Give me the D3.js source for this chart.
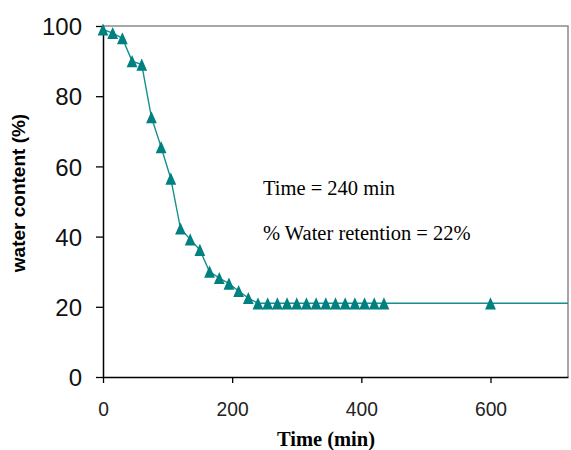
<!DOCTYPE html>
<html lang="en">
<head>
    <meta charset="UTF-8">
    <title>Water content vs time</title>
    <script src="https://d3js.org/d3.v7.min.js"></script>
    <style>
        body { margin: 0; background: white; }
        .ytick text { font-family: "Liberation Sans", Arial, sans-serif; font-size: 24px; fill: #111; }
        .xtick text { font-family: "Liberation Sans", Arial, sans-serif; font-size: 21px; fill: #222; }
        .note { font-family: "Liberation Serif", "Times New Roman", serif; font-size: 20.5px; fill: #000; }
    </style>
</head>
<body>
<svg id="canvas" width="571" height="450"></svg>
<script>
    // data
    let time  = [0, 15, 30, 45, 60, 75, 90, 105, 120, 135, 150, 165, 180, 195, 210, 225,
                 240, 255, 270, 285, 300, 315, 330, 345, 360, 375, 390, 405, 420, 435, 600];
    let water = [99, 98, 96.5, 90, 89, 74, 65.5, 56.5, 42.3, 39.2, 36.2, 30, 28.2, 26.6, 24.5, 22.5,
                 21, 21, 21, 21, 21, 21, 21, 21, 21, 21, 21, 21, 21, 21, 21];
    let xTicks = [0, 200, 400, 600];
    let yTicks = [0, 20, 40, 60, 80, 100];
    let xDomain = [0, 720];
    let yDomain = [0, 100];
    let notes = ["Time = 240 min", "% Water retention = 22%"];

    let svg = d3.select('svg');
    let pLeft = 103, pRight = 568, pTop = 26, pBottom = 377;

    let x = d3.scaleLinear().domain(xDomain).range([pLeft, pRight]);
    let y = d3.scaleLinear().domain(yDomain).range([pBottom, pTop]);

    // frame (top and right in grey)
    svg.append('path')
        .attr('d', `M${pLeft},${pTop}H${pRight}V${pBottom}`)
        .attr('fill', 'none')
        .attr('stroke', '#8a8a8a')
        .attr('stroke-width', 1.5);

    // y axis
    let yAxis = svg.append('g')
        .attr('class', 'ytick')
        .attr('transform', `translate(${pLeft},0)`)
        .call(d3.axisLeft(y).tickValues(yTicks).tickSize(7).tickPadding(14).tickSizeOuter(0));
    yAxis.select('.domain').attr('stroke', '#000').attr('stroke-width', 1.5);
    yAxis.selectAll('.tick line').attr('stroke', '#000').attr('stroke-width', 1.3);
    yAxis.selectAll('text').attr('dy', '0.36em');

    // x axis
    let xAxis = svg.append('g')
        .attr('class', 'xtick')
        .attr('transform', `translate(0,${pBottom})`)
        .call(d3.axisBottom(x).tickValues(xTicks).tickSize(6).tickPadding(18).tickSizeOuter(0));
    xAxis.select('.domain').attr('stroke', '#000').attr('stroke-width', 1.5);
    xAxis.selectAll('.tick line').attr('stroke', '#000').attr('stroke-width', 1.3);
    xAxis.selectAll('text')
        .attr('textLength', d => String(d).length * 10.7)
        .attr('lengthAdjust', 'spacingAndGlyphs');

    // series
    let points = time.map((t, i) => ({t: t, w: water[i]}));
    let lineData = points.concat([{t: xDomain[1], w: water[water.length - 1]}]);

    svg.append('path')
        .datum(lineData)
        .attr('fill', 'none')
        .attr('stroke', '#15908f')
        .attr('stroke-width', 1.4)
        .attr('d', d3.line().x(d => x(d.t)).y(d => y(d.w)));

    // tall triangle marker
    let triangle = {
        draw(ctx, size) {
            let h = Math.sqrt(size) * 1.15, w = Math.sqrt(size) * 1.02;
            ctx.moveTo(0, -h / 2);
            ctx.lineTo(w / 2, h / 2);
            ctx.lineTo(-w / 2, h / 2);
            ctx.closePath();
        }
    };
    svg.append('g')
        .selectAll('path')
        .data(points)
        .enter()
        .append('path')
        .attr('transform', d => `translate(${x(d.t)},${y(d.w)})`)
        .attr('d', d3.symbol().type(triangle).size(112))
        .attr('fill', '#008080');

    // annotations
    svg.selectAll('text.note')
        .data(notes)
        .enter()
        .append('text')
        .attr('class', 'note')
        .attr('x', 263)
        .attr('y', (d, i) => 195 + i * 45)
        .text(d => d);

    // axis titles
    svg.append('text')
        .attr('x', 326)
        .attr('y', 446)
        .attr('text-anchor', 'middle')
        .style('font-family', '"Liberation Serif", "Times New Roman", serif')
        .style('font-weight', 'bold')
        .style('font-size', '20.5px')
        .text('Time (min)');

    svg.append('text')
        .attr('transform', 'translate(25,193) rotate(-90)')
        .attr('text-anchor', 'middle')
        .style('font-family', '"Liberation Sans", Arial, sans-serif')
        .style('font-weight', 'bold')
        .style('font-size', '19px')
        .text('water content (%)');
</script>
</body>
</html>
